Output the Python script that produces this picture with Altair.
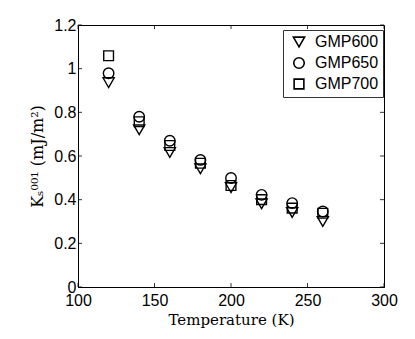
import altair as alt
import pandas as pd

temps = [120, 140, 160, 180, 200, 220, 240, 260]
gmp600 = [0.936, 0.72, 0.616, 0.541, 0.455, 0.381, 0.341, 0.300]
gmp650 = [0.979, 0.78, 0.670, 0.582, 0.499, 0.422, 0.384, 0.346]
gmp700 = [1.059, 0.757, 0.648, 0.567, 0.465, 0.400, 0.361, 0.338]
series = ["GMP600", "GMP650", "GMP700"]
shapes = ["triangle-down", "circle", "square"]
sizes = [125, 95, 55]
x_ticks = [100, 150, 200, 250, 300]
y_ticks = [0, 0.2, 0.4, 0.6, 0.8, 1.0, 1.2]

rows = []
for name, vals in zip(series, [gmp600, gmp650, gmp700]):
    for t, v in zip(temps, vals):
        rows.append({"T": t, "K": v, "series": name})
df = pd.DataFrame(rows)

W, H = 306, 262

xscale = alt.Scale(domain=[100, 300], nice=False, zero=False, padding=0)
yscale = alt.Scale(domain=[0, 1.2], nice=False, padding=0)

legend = alt.Legend(title=None, orient="none", legendX=205, legendY=5,
                    strokeColor="#333", fillColor="white", padding=4,
                    labelFontSize=16, labelFont="Liberation Sans", labelColor="black",
                    symbolStrokeColor="black", symbolStrokeWidth=1.6,
                    symbolFillColor="transparent", symbolOffset=4,
                    rowPadding=3, labelOffset=8)

points = alt.Chart(df).mark_point(filled=False, color="black", strokeWidth=1.4, opacity=1).encode(
    x=alt.X("T:Q", scale=xscale, title="Temperature (K)",
            axis=alt.Axis(values=x_ticks, grid=False, tickSize=0, labelPadding=5,
                          labelFlush=False, labelOverlap=False,
                          titleFont="DejaVu Serif", titleFontWeight="normal",
                          titleFontSize=15, titlePadding=4)),
    y=alt.Y("K:Q", scale=yscale, title="Kₛ⁰⁰¹ (mJ/m²)",
            axis=alt.Axis(values=y_ticks, grid=False, tickSize=0, labelPadding=2,
                          labelFlush=False, labelOverlap=False,
                          labelExpr="datum.value == 0 ? '0' : (datum.value == 1 ? '1' : format(datum.value, '.1f'))",
                          titleFont="DejaVu Serif", titleFontWeight="normal",
                          titleFontSize=16, titlePadding=8)),
    shape=alt.Shape("series:N", scale=alt.Scale(domain=series, range=shapes), legend=legend),
    size=alt.Size("series:N", scale=alt.Scale(domain=series, range=sizes), legend=legend),
)

# inward ticks on all four sides
xt = pd.DataFrame({"T": x_ticks})
yt = pd.DataFrame({"K": y_ticks})
tick_bottom = alt.Chart(xt).mark_rule(color="black", strokeWidth=0.8).encode(
    x=alt.X("T:Q", scale=xscale), y=alt.value(H), y2=alt.value(H - 4))
tick_top = alt.Chart(xt).mark_rule(color="black", strokeWidth=0.8).encode(
    x=alt.X("T:Q", scale=xscale), y=alt.value(0), y2=alt.value(4))
tick_left = alt.Chart(yt).mark_rule(color="black", strokeWidth=0.8).encode(
    y=alt.Y("K:Q", scale=yscale), x=alt.value(0), x2=alt.value(4))
tick_right = alt.Chart(yt).mark_rule(color="black", strokeWidth=0.8).encode(
    y=alt.Y("K:Q", scale=yscale), x=alt.value(W), x2=alt.value(W - 4))

chart = alt.layer(points, tick_bottom, tick_top, tick_left, tick_right).properties(
    width=W, height=H,
    autosize=alt.AutoSizeParams(type="none"),
    padding={"left": 70, "top": 17, "right": 20, "bottom": 44},
    background="white",
).configure_view(stroke="black", strokeWidth=1).configure_axis(
    domainColor="black", labelFont="Liberation Sans", labelFontSize=16, labelColor="black",
    titleColor="black",
)

chart.save("out.html", embed_options={"renderer": "svg", "actions": False})
